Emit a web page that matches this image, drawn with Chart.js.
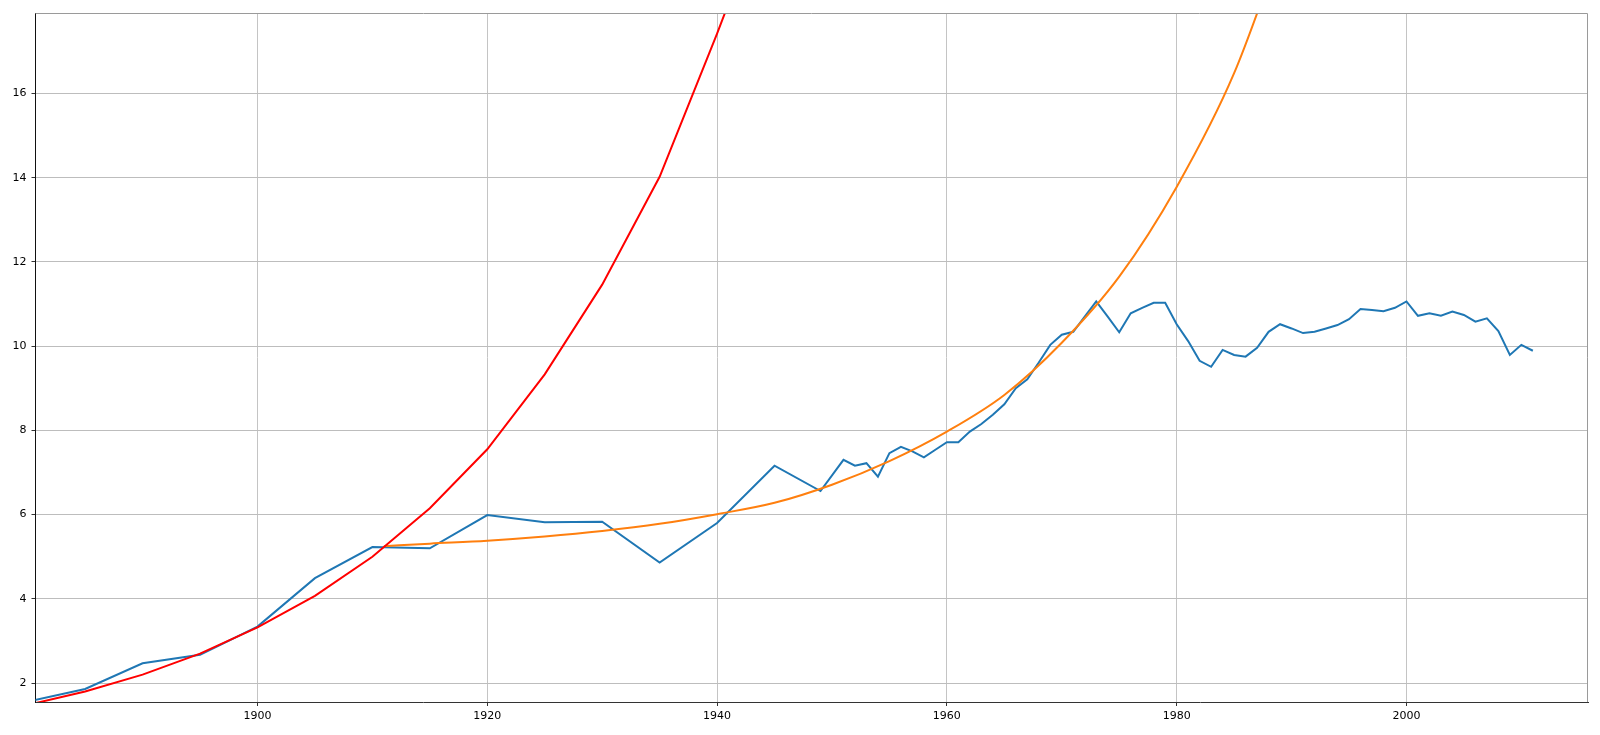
<!DOCTYPE html>
<html>
<head>
<meta charset="utf-8">
<script src="https://cdn.jsdelivr.net/npm/chart.js@4.4.0/dist/chart.umd.min.js"></script>
<style>
  html, body { margin: 0; padding: 0; background: #ffffff; }
  #wrap { width: 1600px; height: 735px; position: relative; }
</style>
</head>
<body>
<div id="wrap"><canvas id="c"></canvas></div>
<script>
// ---- data ----
const blueYears = [1880, 1885, 1890, 1895, 1900, 1905, 1910, 1915, 1920, 1925, 1930, 1935, 1940, 1945, 1949,
  1951, 1952, 1953, 1954, 1955, 1956, 1957, 1958, 1959, 1960, 1961, 1962, 1963, 1964, 1965, 1966, 1967, 1968, 1969, 1970,
  1971, 1972, 1973, 1974, 1975, 1976, 1977, 1978, 1979, 1980, 1981, 1982, 1983, 1984, 1985, 1986, 1987, 1988, 1989, 1990,
  1991, 1992, 1993, 1994, 1995, 1996, 1997, 1998, 1999, 2000, 2001, 2002, 2003, 2004, 2005, 2006, 2007, 2008, 2009, 2010, 2011];
const blueValues = [1.56, 1.86, 2.47, 2.67, 3.34, 4.49, 5.23, 5.20, 5.99, 5.82, 5.83, 4.86, 5.80, 7.16, 6.56,
  7.30, 7.16, 7.22, 6.90, 7.46, 7.61, 7.50, 7.36, 7.54, 7.72, 7.72, 7.97, 8.15, 8.37, 8.62, 9.00, 9.21, 9.61, 10.03, 10.27,
  10.34, 10.70, 11.06, 10.70, 10.33, 10.78, 10.91, 11.03, 11.03, 10.52, 10.12, 9.65, 9.51, 9.91, 9.79, 9.75, 9.96, 10.34, 10.52, 10.42,
  10.31, 10.34, 10.42, 10.50, 10.64, 10.88, 10.86, 10.83, 10.91, 11.06, 10.72, 10.78, 10.72, 10.82, 10.74, 10.58, 10.66, 10.36, 9.79, 10.03, 9.89];

const redYears = [1880, 1885, 1890, 1895, 1900, 1905, 1910, 1915, 1920, 1925, 1930, 1935, 1940, 1945];
const redValues = [1.48, 1.80, 2.20, 2.70, 3.32, 4.07, 5.00, 6.15, 7.55, 9.33, 11.46, 14.02, 17.42, 21.0];

const orangeYears = [1911, 1915, 1920, 1925, 1930, 1935, 1940, 1945, 1950, 1955, 1960, 1965, 1970, 1975, 1980, 1985, 1990];
const orangeValues = [5.25, 5.31, 5.38, 5.48, 5.61, 5.78, 6.01, 6.28, 6.71, 7.27, 7.97, 8.84, 10.08, 11.65, 13.78, 16.48, 20.2];

const xTickLabels = [1900, 1920, 1940, 1960, 1980, 2000];
const yTickLabels = [2, 4, 6, 8, 10, 12, 14, 16];

const xRange = [1880.68, 2015.8];
const yRange = [1.55, 17.91];

// ---- helpers ----
const toPoints = (xs, ys) => xs.map((x, i) => ({ x: x, y: ys[i] }));

Chart.defaults.font.family = '"DejaVu Sans", sans-serif';
Chart.defaults.font.size = 11;
Chart.defaults.color = '#000000';

const frame = {
  id: 'frame',
  afterDraw(chart) {
    const a = chart.chartArea, ctx = chart.ctx;
    ctx.save();
    ctx.strokeStyle = '#9a9a9a';
    ctx.lineWidth = 1;
    ctx.beginPath();
    ctx.moveTo(a.left, a.top + 0.5);
    ctx.lineTo(a.right - 0.5, a.top + 0.5);
    ctx.lineTo(a.right - 0.5, a.bottom);
    ctx.stroke();
    ctx.restore();
  }
};

new Chart(document.getElementById('c'), {
  type: 'line',
  data: {
    datasets: [
      { label: 'red', data: toPoints(redYears, redValues), borderColor: '#ff0000', borderWidth: 2,
        pointRadius: 0, tension: 0, fill: false, order: 0, clip: 0 },
      { label: 'orange', data: toPoints(orangeYears, orangeValues), borderColor: '#ff7f0e', borderWidth: 2,
        pointRadius: 0, cubicInterpolationMode: 'monotone', fill: false, order: 1, clip: 0 },
      { label: 'blue', data: toPoints(blueYears, blueValues), borderColor: '#1f77b4', borderWidth: 2,
        pointRadius: 0, tension: 0, fill: false, order: 2, clip: 0 }
    ]
  },
  options: {
    responsive: true,
    maintainAspectRatio: false,
    animation: false,
    parsing: true,
    layout: { padding: { left: 0, top: 13, right: 12, bottom: 0 } },
    plugins: { legend: { display: false }, tooltip: { enabled: false } },
    scales: {
      x: {
        type: 'linear',
        min: xRange[0], max: xRange[1],
        afterBuildTicks: (s) => { s.ticks = xTickLabels.map(v => ({ value: v })); },
        afterFit: (s) => { s.height = 33; },
        ticks: { padding: 4, maxRotation: 0, color: '#000', callback: (v) => String(v) },
        grid: { color: '#c4c4c4', lineWidth: 1, tickLength: 4, tickColor: '#333', drawOnChartArea: true },
        border: { display: true, color: '#333333', width: 1 }
      },
      y: {
        type: 'linear',
        min: yRange[0], max: yRange[1],
        afterBuildTicks: (s) => { s.ticks = yTickLabels.map(v => ({ value: v })); },
        afterFit: (s) => { s.width = 35.5; },
        ticks: { padding: 5, color: '#000', callback: (v) => String(v) },
        grid: { color: '#bdbdbd', lineWidth: 1, tickLength: 4, tickColor: '#333' },
        border: { display: true, color: '#111111', width: 1 }
      }
    }
  },
  plugins: [frame]
});
</script>
</body>
</html>
